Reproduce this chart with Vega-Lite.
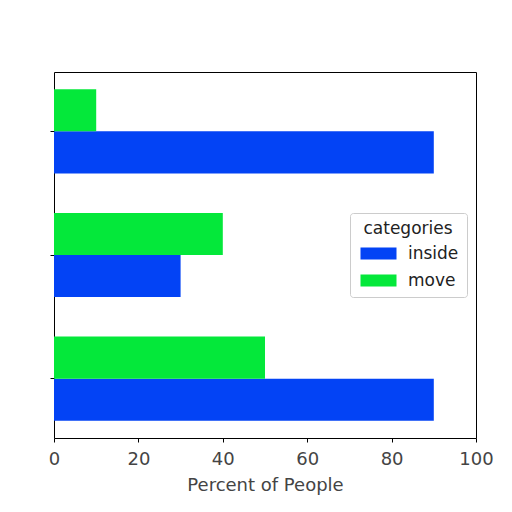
{
  "$schema": "https://vega.github.io/schema/vega-lite/v6.json",
  "width": 422,
  "height": 366,
  "autosize": {"type": "none"},
  "padding": {"left": 54, "top": 72, "right": 36, "bottom": 74},
  "background": "white",
  "data": {
    "values": [
      {"group": "A", "categories": "inside", "percent": 90},
      {"group": "A", "categories": "move", "percent": 10},
      {"group": "B", "categories": "inside", "percent": 30},
      {"group": "B", "categories": "move", "percent": 40},
      {"group": "C", "categories": "inside", "percent": 90},
      {"group": "C", "categories": "move", "percent": 50}
    ]
  },
  "mark": {"type": "bar"},
  "encoding": {
    "y": {
      "field": "group",
      "type": "nominal",
      "scale": {"domain": ["A", "B", "C"], "paddingInner": 0.32, "paddingOuter": 0.14},
      "axis": {"labels": false, "title": null, "ticks": true, "tickColor": "#000", "tickSize": 4, "domain": false}
    },
    "yOffset": {
      "field": "categories",
      "type": "nominal",
      "scale": {"domain": ["move", "inside"], "paddingInner": 0, "paddingOuter": 0}
    },
    "x": {
      "field": "percent",
      "type": "quantitative",
      "scale": {"domain": [0, 100], "nice": false},
      "axis": {
        "title": "Percent of People",
        "values": [0, 20, 40, 60, 80, 100],
        "grid": false,
        "domain": false,
        "tickColor": "#000",
        "tickSize": 4,
        "labelColor": "#444",
        "titleColor": "#444",
        "labelFontSize": 18,
        "titleFontSize": 18,
        "titleFontWeight": "normal",
        "labelFont": "DejaVu Sans",
        "titleFont": "DejaVu Sans",
        "labelFlush": false,
        "labelOverlap": false,
        "labelPadding": 8,
        "titlePadding": 8
      }
    },
    "color": {
      "field": "categories",
      "type": "nominal",
      "scale": {"domain": ["inside", "move"], "range": ["#0343f5", "#04e83a"]},
      "legend": {
        "orient": "none",
        "legendX": 296,
        "legendY": 141,
        "title": "categories",
        "titleFont": "DejaVu Sans",
        "titleFontSize": 17,
        "titleFontWeight": "normal",
        "titleColor": "#222",
        "titleAnchor": "middle",
        "titlePadding": 7,
        "labelFont": "DejaVu Sans",
        "labelFontSize": 17,
        "labelColor": "#222",
        "symbolType": "M-3,-1H3V1H-3Z",
        "symbolSize": 144,
        "symbolOffset": 12,
        "labelOffset": 21,
        "symbolStrokeWidth": 0,
        "rowPadding": 9,
        "padding": 8,
        "strokeColor": "#ccc",
        "fillColor": "white",
        "cornerRadius": 3
      }
    }
  },
  "config": {
    "view": {"stroke": "#000", "strokeWidth": 1}
  }
}
